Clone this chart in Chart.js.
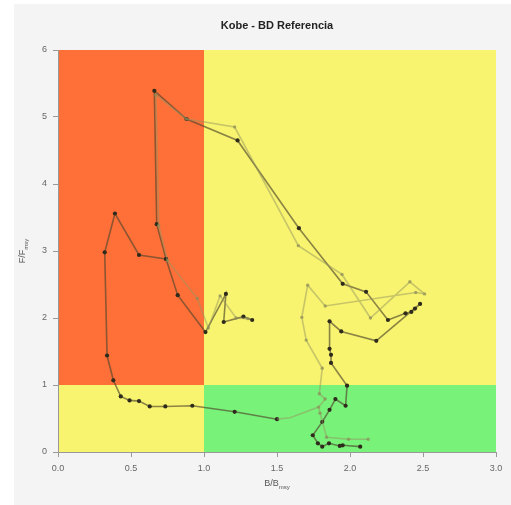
<!DOCTYPE html>
<html>
<head>
<meta charset="utf-8">
<script src="https://cdn.jsdelivr.net/npm/chart.js@4"></script>
<style>
  html, body { margin: 0; padding: 0; background: #ffffff; }
  #panel { position: absolute; left: 14px; top: 4px; width: 497px; height: 501px; background: #f4f4f4; }
  #kobe { position: absolute; left: 0; top: 0; }
</style>
</head>
<body>
<div id="panel"></div>
<canvas id="kobe" width="511" height="505"></canvas>
<script>
// Trayectoria principal (B/Bmsy, F/Fmsy)
const mainB = [1.50, 1.21, 0.92, 0.735, 0.628, 0.555, 0.49, 0.43, 0.379, 0.336, 0.32, 0.39, 0.555, 0.74, 0.676,
               0.66, 0.88, 1.23, 1.65, 1.95, 2.11, 2.26, 2.38, 2.42, 2.445, 2.48, 2.18, 1.94, 1.86, 1.86,
               1.87, 1.87, 1.98, 1.97, 1.90, 1.86, 1.81, 1.745, 1.78, 1.81, 1.856, 1.93, 1.95, 2.07];
const mainF = [0.49, 0.60, 0.69, 0.68, 0.68, 0.76, 0.77, 0.83, 1.07, 1.44, 2.98, 3.56, 2.94, 2.88, 3.40,
               5.39, 4.97, 4.65, 3.34, 2.51, 2.39, 1.97, 2.07, 2.09, 2.14, 2.21, 1.66, 1.80, 1.95, 1.54,
               1.45, 1.33, 0.99, 0.69, 0.79, 0.63, 0.45, 0.25, 0.13, 0.08, 0.13, 0.09, 0.10, 0.08];

// rama corta cerca de B/Bmsy = 1
const branchB = [0.74, 0.82, 1.01, 1.15, 1.135, 1.27, 1.33];
const branchF = [2.88, 2.34, 1.79, 2.36, 1.94, 2.02, 1.97];

// trayectoria alternativa (linea clara)
const altB = [1.30, 1.22, 1.11, 1.03, 0.954, 0.75, 0.69, 0.67, 0.88, 1.21, 1.646, 1.945, 2.14, 2.41, 2.51, 2.45,
              1.83, 1.71, 1.67, 1.70, 1.81, 1.79, 1.83, 1.785, 1.795, 1.84, 1.99, 2.125];
const altF = [1.99, 2.00, 2.33, 1.85, 2.29, 2.86, 3.38, 5.33, 4.97, 4.85, 3.08, 2.65, 2.00, 2.54, 2.36, 2.38,
              2.18, 2.49, 2.01, 1.67, 1.25, 0.87, 0.79, 0.67, 0.58, 0.22, 0.19, 0.19];
const altTailB = [1.50, 1.59, 1.785];
const altTailF = [0.49, 0.51, 0.67];

const xTicks = [0, 0.5, 1, 1.5, 2, 2.5, 3];
const yTicks = [0, 1, 2, 3, 4, 5, 6];

function toPoints(bs, fs) {
    return bs.map((b, i) => ({ x: b, y: fs[i] }));
}

const ORANGE = '#ff6f38';
const YELLOW = '#f8f46f';
const GREEN = '#79f27a';

const kobeBackground = {
    id: 'kobeBackground',
    beforeDraw(chart) {
        const { ctx, chartArea: a, scales: { x, y } } = chart;
        const x1 = x.getPixelForValue(1);
        const y1 = y.getPixelForValue(1);
        ctx.save();
        ctx.fillStyle = YELLOW;
        ctx.fillRect(a.left, a.top, a.width, a.height);
        ctx.fillStyle = ORANGE;
        ctx.fillRect(a.left, a.top, x1 - a.left, y1 - a.top);
        ctx.fillStyle = GREEN;
        ctx.fillRect(x1, y1, a.right - x1, a.bottom - y1);
        ctx.restore();
    }
};

// titulo y ejes con subindices
const kobeTitles = {
    id: 'kobeTitles',
    afterDraw(chart) {
        const { ctx, chartArea: a } = chart;
        const cx = (a.left + a.right) / 2;
        ctx.save();
        ctx.fillStyle = '#222';
        ctx.font = 'bold 11px "Liberation Sans", Arial, sans-serif';
        ctx.textAlign = 'center';
        ctx.textBaseline = 'middle';
        ctx.fillText('Kobe - BD Referencia', cx, 26);

        function subLabel(main, sub, px, py) {
            ctx.font = '9px "Liberation Sans", Arial, sans-serif';
            const w1 = ctx.measureText(main).width;
            ctx.font = '6px "Liberation Sans", Arial, sans-serif';
            const w2 = ctx.measureText(sub).width;
            const start = px - (w1 + w2) / 2;
            ctx.textAlign = 'left';
            ctx.fillStyle = '#555';
            ctx.font = '9px "Liberation Sans", Arial, sans-serif';
            ctx.fillText(main, start, py);
            ctx.font = '6px "Liberation Sans", Arial, sans-serif';
            ctx.fillText(sub, start + w1, py + 3);
        }

        subLabel('B/B', 'msy', cx, 484);

        ctx.translate(23, (a.top + a.bottom) / 2);
        ctx.rotate(-Math.PI / 2);
        subLabel('F/F', 'msy', 0, 0);
        ctx.restore();
    }
};

const tickFont = { family: '"Liberation Sans", Arial, sans-serif', size: 9 };

new Chart(document.getElementById('kobe'), {
    type: 'scatter',
    data: {
        datasets: [
            {
                data: toPoints(altTailB, altTailF),
                showLine: true,
                borderColor: 'rgba(150, 150, 95, 0.5)',
                borderWidth: 1.6,
                pointRadius: 0
            },
            {
                data: toPoints(altB, altF),
                showLine: true,
                borderColor: 'rgba(150, 150, 95, 0.5)',
                borderWidth: 1.6,
                pointRadius: 1.7,
                pointBackgroundColor: 'rgba(140, 140, 90, 0.7)',
                pointBorderWidth: 0
            },
            {
                data: toPoints(branchB, branchF),
                showLine: true,
                borderColor: 'rgba(80, 70, 45, 0.65)',
                borderWidth: 1.6,
                pointRadius: 2.1,
                pointBackgroundColor: '#2e2a1c',
                pointBorderWidth: 0
            },
            {
                data: toPoints(mainB, mainF),
                showLine: true,
                borderColor: 'rgba(80, 70, 45, 0.65)',
                borderWidth: 1.6,
                pointRadius: 2.1,
                pointBackgroundColor: '#2e2a1c',
                pointBorderWidth: 0
            }
        ]
    },
    options: {
        responsive: false,
        animation: false,
        layout: { padding: { left: 0, right: 15, top: 50, bottom: 0 } },
        plugins: {
            legend: { display: false },
            tooltip: { enabled: false }
        },
        scales: {
            x: {
                type: 'linear',
                min: 0,
                max: 3,
                afterFit(scale) { scale.height = 53; },
                afterBuildTicks(scale) { scale.ticks = xTicks.map(v => ({ value: v })); },
                grid: { drawOnChartArea: false, drawTicks: true, tickLength: 5, color: '#999' },
                border: { display: true, color: '#999' },
                ticks: {
                    font: tickFont,
                    color: '#666',
                    padding: 6,
                    callback: v => Number(v).toFixed(1)
                }
            },
            y: {
                type: 'linear',
                min: 0,
                max: 6,
                afterFit(scale) { scale.width = 58; },
                afterBuildTicks(scale) { scale.ticks = yTicks.map(v => ({ value: v })); },
                grid: { drawOnChartArea: false, drawTicks: true, tickLength: 5, color: '#999' },
                border: { display: true, color: '#999' },
                ticks: {
                    font: tickFont,
                    color: '#666',
                    padding: 6,
                    callback: v => String(v)
                }
            }
        }
    },
    plugins: [kobeBackground, kobeTitles]
});
</script>
</body>
</html>
